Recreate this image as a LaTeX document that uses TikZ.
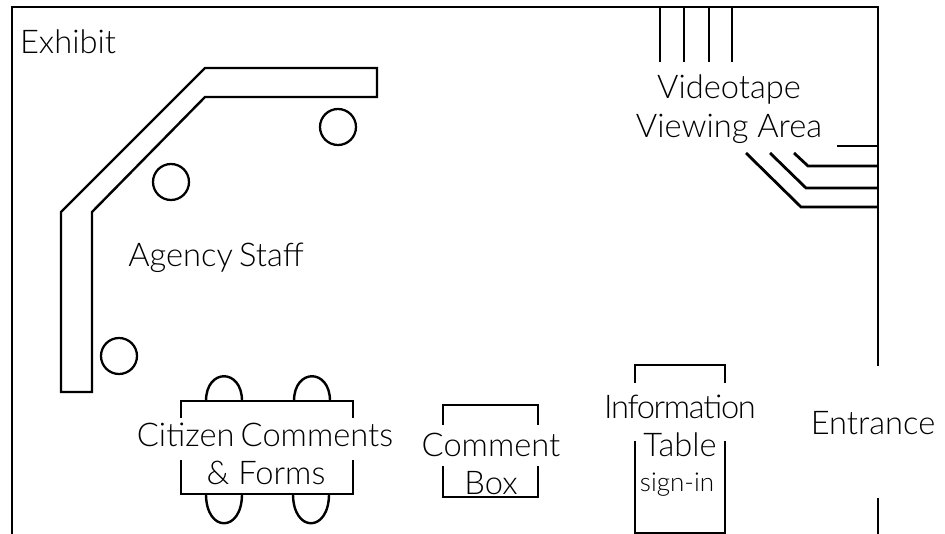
\documentclass[tikz,border=0pt]{standalone}
\usepackage{fontspec}
\setmainfont{Lato}[UprightFont=* Light]
\tikzset{
  wall/.style={line width=2.1pt,line cap=butt,line join=miter},
  thin wall/.style={line width=1.8pt,line join=miter},
  lbl/.style={inner sep=0pt,anchor=base,font=\fontsize{24.5}{24}\selectfont},
  small lbl/.style={inner sep=0pt,anchor=base,font=\fontsize{19.5}{20}\selectfont},
  staff/.style={line width=1.7pt,circle,draw,minimum size=27pt,inner sep=0pt}
}
\begin{document}
\begin{tikzpicture}[x=0.75pt,y=-0.75pt]
\useasboundingbox (0,0) rectangle (945,534);
\begin{scope}
\clip (0,0) rectangle (945,534);
% room
\draw[wall] (12,534) -- (12,7) -- (878,7) -- (878,366);
\draw[wall] (878,498) -- (878,534);
% staff table
\draw[thin wall] (61,392) -- (61,212) -- (205,68) -- (377,68) -- (377,97) -- (205,97) -- (92,212) -- (92,392) -- cycle;
\node[staff] (s1) at (338,127) {};
\node[staff] (s2) at (171,182) {};
\node[staff] (s3) at (119,356) {};
% citizen table
\draw[thin wall] (206,401) .. controls (206,368) and (242,368) .. (242,401);
\draw[thin wall] (294,401) .. controls (294,368) and (330,368) .. (330,401);
\draw[thin wall] (206,494) .. controls (206,533) and (242,533) .. (242,494);
\draw[thin wall] (293,494) .. controls (293,533) and (329,533) .. (329,494);
\draw[wall] (181,418) -- (181,401) -- (353,401) -- (353,418);
\draw[wall] (181,460) -- (181,494) -- (353,494) -- (353,460);
% comment box
\draw[wall] (443,425) -- (443,405) -- (538,405) -- (538,425);
\draw[wall] (443,466) -- (443,497) -- (538,497) -- (538,466);
% information table
\draw[wall] (635,383) -- (635,365) -- (725,365) -- (725,383);
\draw[wall] (635,441) -- (635,533) -- (725,533) -- (725,441);
% video
\draw[wall] (660,7) -- (660,62);
\draw[wall] (684,7) -- (684,62);
\draw[wall] (709,7) -- (709,62);
\draw[wall] (732,7) -- (732,62);
\draw[wall] (837,146) -- (878,146);
\draw[wall] (794,153) -- (808,166) -- (878,166);
\draw[wall] (770,153) -- (806,188) -- (878,188);
\draw[wall] (746,153) -- (801,207) -- (878,207);
\end{scope}
% labels
\node[lbl] (exhibit) at (68,54) {Exhibit};
\node[lbl] (agency) at (216,267) {Agency\hspace{-2pt} Staff};
\node[lbl] (citizen) at (265,446) {Citizen\hspace{-2pt} Comments};
\node[lbl] (forms) at (266,484) {\& Forms};
\node[lbl] (comment) at (491,456) {Comment};
\node[lbl] (boxl) at (491,494) {Box};
\node[lbl] (info) at (680,418) {\addfontfeature{LetterSpace=-4}Information};
\node[lbl] (tablel) at (680,456) {Table};
\node[small lbl] (sign) at (677,491) {sign-in};
\node[lbl] (entrance) at (873,434) {Entrance};
\node[lbl] (video) at (729,99) {Videotape};
\node[lbl] (viewing) at (729,138) {Viewing Area};
\end{tikzpicture}
\end{document}
